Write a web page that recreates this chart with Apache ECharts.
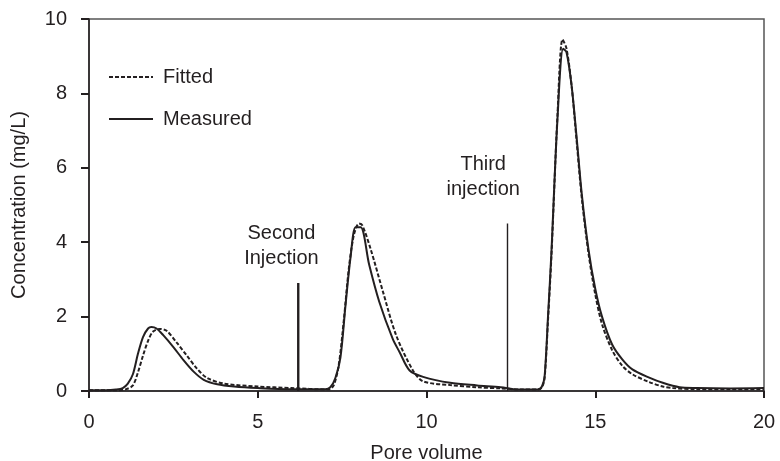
<!DOCTYPE html>
<html>
<head>
<meta charset="utf-8">
<script src="https://cdn.jsdelivr.net/npm/echarts@6/dist/echarts.min.js"></script>
<style>
  html, body { margin: 0; padding: 0; background: #fff; }
  #chart { width: 780px; height: 461px; }
</style>
</head>
<body>
<div id="chart"></div>
<script>
// Breakthrough curves: measured vs fitted concentration over pore volume
const measuredX = [0, 0.5, 0.8, 1.0, 1.15, 1.3, 1.45, 1.6, 1.75, 1.85, 2.0, 2.2, 2.5, 2.8, 3.1, 3.4, 3.8, 4.3, 5.0, 6.0, 7.0, 7.15, 7.3, 7.45, 7.6, 7.75, 7.9, 8.05, 8.3, 8.6, 9.0, 9.2, 9.5, 9.9, 10.7, 11.5, 12.2, 12.7, 13.3, 13.42, 13.5, 13.6, 13.7, 13.88, 14.05, 14.15, 14.3, 14.45, 14.6, 14.8, 15.0, 15.2, 15.5, 15.8, 16.1, 16.6, 17.0, 17.5, 18.0, 19.0, 20.0];
const measuredY = [0.02, 0.02, 0.04, 0.08, 0.2, 0.45, 1.0, 1.45, 1.68, 1.72, 1.68, 1.5, 1.18, 0.83, 0.52, 0.3, 0.18, 0.12, 0.08, 0.05, 0.05, 0.1, 0.35, 0.9, 2.3, 3.6, 4.4, 4.4, 3.4, 2.4, 1.4, 1.05, 0.55, 0.38, 0.22, 0.15, 0.1, 0.04, 0.04, 0.12, 0.4, 2.0, 3.7, 7.3, 9.2, 9.1, 8.2, 6.8, 5.3, 3.8, 2.75, 2.0, 1.25, 0.85, 0.58, 0.36, 0.22, 0.1, 0.08, 0.07, 0.08];

const fittedX = [0, 0.8, 1.1, 1.3, 1.45, 1.6, 1.75, 1.9, 2.1, 2.3, 2.6, 2.9, 3.2, 3.5, 4.0, 5.0, 6.0, 7.1, 7.25, 7.4, 7.55, 7.7, 7.85, 8.0, 8.1, 8.35, 8.7, 9.1, 9.6, 9.9, 10.7, 11.5, 12.2, 12.8, 13.3, 13.42, 13.5, 13.6, 13.7, 13.88, 14.03, 14.15, 14.3, 14.45, 14.6, 14.8, 15.0, 15.2, 15.5, 15.8, 16.1, 16.6, 17.0, 17.3, 18.0, 19.0, 20.0];
const fittedY = [0.02, 0.02, 0.05, 0.15, 0.5, 0.95, 1.35, 1.6, 1.67, 1.62, 1.3, 0.95, 0.6, 0.35, 0.2, 0.12, 0.08, 0.04, 0.15, 0.7, 1.9, 3.3, 4.2, 4.5, 4.45, 3.8, 2.7, 1.5, 0.55, 0.26, 0.16, 0.1, 0.07, 0.04, 0.04, 0.1, 0.35, 1.9, 3.6, 7.4, 9.45, 9.2, 8.2, 6.7, 5.2, 3.7, 2.6, 1.8, 1.1, 0.68, 0.45, 0.24, 0.12, 0.08, 0.05, 0.05, 0.05];

// Injection markers: pore volume and marker height
const injectionX = [6.2, 12.4];
const injectionTop = [2.9, 4.5];
const injectionLabels = ['Second\nInjection', 'Third\ninjection'];
const injectionLabelPos = [[5.7, 3.9], [11.68, 5.75]];

const xTicks = [0, 5, 10, 15, 20];
const yTicks = [0, 2, 4, 6, 8, 10];

const ink = '#231f20';
const font = 'Liberation Sans, Arial, sans-serif';
const fs = 20;

const pairs = (xs, ys) => xs.map((x, i) => [x, ys[i]]);

const chart = echarts.init(document.getElementById('chart'), null, { renderer: 'canvas' });

const markerSeries = injectionX.map((x, i) => ({
  type: 'line',
  name: 'marker' + i,
  data: [[x, 0], [x, injectionTop[i]]],
  symbol: 'none',
  lineStyle: { color: ink, width: i === 0 ? 2.4 : 1.4 },
  silent: true,
  z: 1
}));

chart.setOption({
  animation: false,
  backgroundColor: '#fff',
  grid: {
    left: 89, right: 16, top: 19, bottom: 70,
    containLabel: false,
    outerBoundsMode: 'none',
    show: true, borderColor: '#555', borderWidth: 1.5, backgroundColor: 'transparent'
  },
  legend: {
    orient: 'vertical',
    left: 103, top: 62,
    itemWidth: 44, itemHeight: 16, itemGap: 22,
    data: ['Fitted', 'Measured'],
    itemStyle: { opacity: 0 },
    textStyle: { fontFamily: font, fontSize: fs, color: ink, padding: [0, 0, 0, 5] }
  },
  xAxis: {
    type: 'value', min: xTicks[0], max: xTicks[xTicks.length - 1], interval: 5,
    name: 'Pore volume', nameLocation: 'middle', nameGap: 52,
    nameTextStyle: { fontFamily: font, fontSize: fs, color: ink },
    axisLine: { onZero: false, lineStyle: { color: ink, width: 1.5 } },
    axisTick: { show: true, inside: false, length: 7, lineStyle: { color: ink, width: 2 } },
    axisLabel: { margin: 21, fontFamily: font, fontSize: fs, color: ink },
    splitLine: { show: false }
  },
  yAxis: {
    type: 'value', min: yTicks[0], max: yTicks[yTicks.length - 1], interval: 2,
    name: 'Concentration (mg/L)', nameLocation: 'middle', nameGap: 60, nameRotate: 90,
    nameTextStyle: { fontFamily: font, fontSize: fs, color: ink },
    axisLine: { onZero: false, lineStyle: { color: ink, width: 1.5 } },
    axisTick: { show: true, inside: false, length: 8, lineStyle: { color: ink, width: 2 } },
    axisLabel: { margin: 22, fontFamily: font, fontSize: fs, color: ink },
    splitLine: { show: false }
  },
  series: [
    {
      type: 'line', name: 'Fitted',
      data: pairs(fittedX, fittedY),
      symbol: 'none', smooth: 0.3,
      lineStyle: { color: ink, width: 2, type: [4, 2] },
      itemStyle: { color: ink },
      z: 3
    },
    {
      type: 'line', name: 'Measured',
      data: pairs(measuredX, measuredY),
      symbol: 'none', smooth: 0.3,
      lineStyle: { color: ink, width: 2 },
      itemStyle: { color: ink },
      z: 4
    },
    ...markerSeries,
    {
      type: 'scatter', name: 'labels',
      data: injectionLabelPos.map((p, i) => ({ value: p, labelText: injectionLabels[i] })),
      symbolSize: 0,
      silent: true,
      itemStyle: { opacity: 1, color: ink },
      label: {
        show: true, position: 'inside', align: 'center', verticalAlign: 'middle',
        formatter: (p) => p.data.labelText,
        fontFamily: font, fontSize: fs, lineHeight: 25, color: ink
      }
    }
  ]
});
</script>
</body>
</html>
